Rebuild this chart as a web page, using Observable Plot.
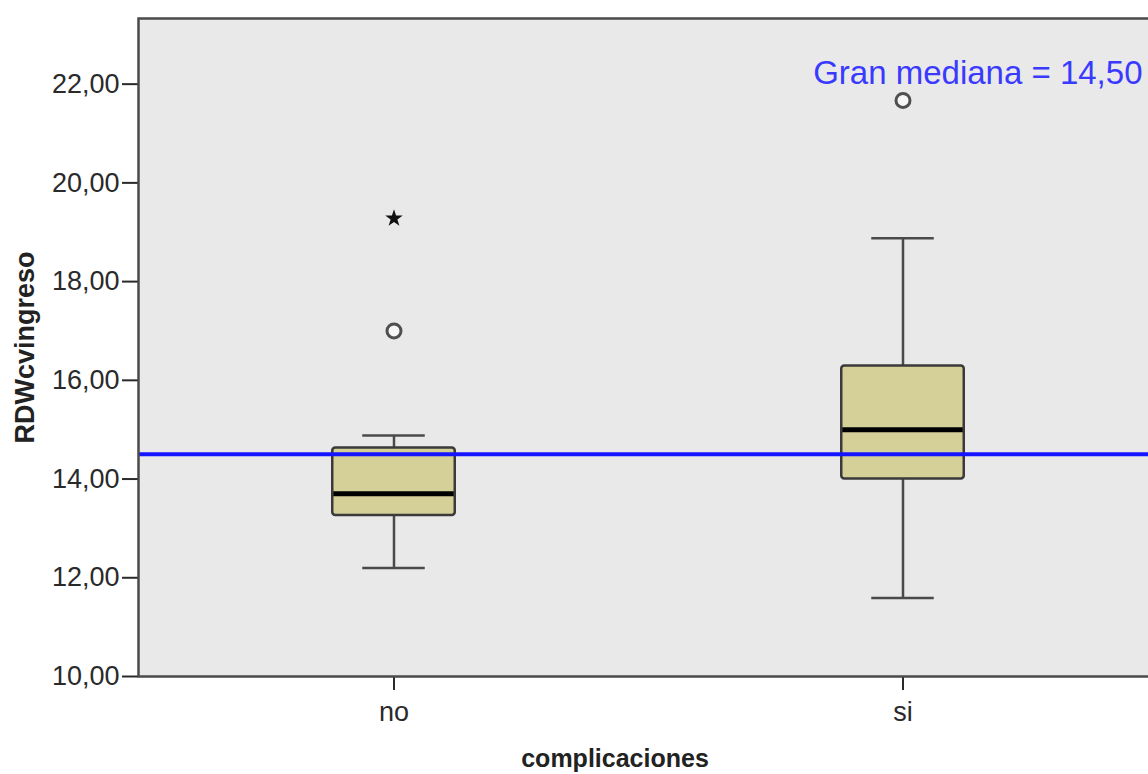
<!DOCTYPE html>
<html>
<head>
<meta charset="utf-8">
<script src="https://cdn.jsdelivr.net/npm/d3@7"></script>
<script src="https://cdn.jsdelivr.net/npm/@observablehq/plot@0.6"></script>
<style>
  html, body { margin: 0; padding: 0; background: #fff; overflow: hidden; }
  #chart { width: 1148px; height: 774px; overflow: hidden; }
  #chart svg { font-family: "Liberation Sans", Arial, sans-serif; max-width: none !important; }
</style>
</head>
<body>
<div id="chart"></div>
<script>
// Boxplot summary of RDWcvingreso by complicaciones
const groups = ["no", "si"];
const whiskerLow = [12.2, 11.59];
const q1 = [13.26, 14.0];
const medians = [13.7, 15.0];
const q3 = [14.63, 16.29];
const whiskerHigh = [14.88, 18.88];

// Outlying cases (circle = outlier, star = extreme)
const outlierGroup = ["no", "no", "si"];
const outlierValue = [17.0, 19.28, 21.67];
const outlierKind = ["circle", "star", "circle"];

const granMediana = 14.5;
const yTicks = [10, 12, 14, 16, 18, 20, 22];

const fmt = d => d.toFixed(2).replace(".", ",");

const boxes = groups.map((g, i) => ({
  group: g, lo: whiskerLow[i], q1: q1[i], med: medians[i], q3: q3[i], hi: whiskerHigh[i]
}));
const outliers = outlierGroup.map((g, i) => ({group: g, value: outlierValue[i], kind: outlierKind[i]}));

// The plot area runs slightly past the right edge of the page.
const width = 1160, height = 774;
const marginLeft = 138, marginRight = 3, marginTop = 18, marginBottom = 98;
const band = (width - marginLeft - marginRight) / groups.length;
const boxInset = (band - 123) / 2;
const capInset = (band - 63) / 2;

const chart = Plot.plot({
  width, height, marginLeft, marginRight, marginTop, marginBottom,
  style: {fontFamily: '"Liberation Sans", Arial, sans-serif', background: "#fff", maxWidth: "none"},
  x: {type: "band", domain: groups, padding: 0},
  y: {domain: [10, 23.33]},
  marks: [
    Plot.frame({fill: "#e9e9e9"}),
    // whisker stems
    Plot.ruleX(boxes, {x: "group", y1: "q3", y2: "hi", stroke: "#4a4a4a", strokeWidth: 2.5}),
    Plot.ruleX(boxes, {x: "group", y1: "lo", y2: "q1", stroke: "#4a4a4a", strokeWidth: 2.5}),
    // whisker caps
    Plot.tickY(boxes, {x: "group", y: "hi", stroke: "#4a4a4a", strokeWidth: 2.5, insetLeft: capInset, insetRight: capInset}),
    Plot.tickY(boxes, {x: "group", y: "lo", stroke: "#4a4a4a", strokeWidth: 2.5, insetLeft: capInset, insetRight: capInset}),
    // interquartile box
    Plot.barY(boxes, {x: "group", y1: "q1", y2: "q3", fill: "#d5cf98", stroke: "#3a3a3a", strokeWidth: 2.5, rx: 3, insetLeft: boxInset, insetRight: boxInset}),
    // median
    Plot.tickY(boxes, {x: "group", y: "med", stroke: "#000", strokeWidth: 5, insetLeft: boxInset + 1, insetRight: boxInset + 1}),
    // outliers
    Plot.dot(outliers.filter(d => d.kind === "circle"), {x: "group", y: "value", r: 7, stroke: "#4f4f4f", strokeWidth: 3, fill: "#f6f6f6"}),
    Plot.dot(outliers.filter(d => d.kind === "star"), {x: "group", y: "value", symbol: "star", r: 5.5, fill: "#111", stroke: "none"}),
    // grand median reference line
    Plot.ruleY([granMediana], {stroke: "#1414ff", strokeWidth: 4}),
    Plot.text([granMediana], {text: d => `Gran mediana = ${fmt(d)}`, frameAnchor: "top-right", textAnchor: "end", lineAnchor: "bottom", dx: -15, dy: 65, fill: "#3a3aff", fontSize: 33}),
    // axes
    Plot.axisY({ticks: yTicks, tickFormat: fmt, tickSize: 16, tickPadding: 3, fontSize: 27, color: "#2a2a2a", strokeWidth: 2, label: null}),
    Plot.axisX({tickSize: 14, tickPadding: 11, fontSize: 27, color: "#2a2a2a", strokeWidth: 2, label: null}),
    Plot.frame({stroke: "#4a4a4a", strokeWidth: 2.5}),
    // axis titles
    Plot.text(["RDWcvingreso"], {frameAnchor: "left", textAnchor: "middle", dx: -113, rotate: -90, fontWeight: "bold", fontSize: 27, fill: "#222"}),
    Plot.text(["complicaciones"], {frameAnchor: "bottom", textAnchor: "middle", dx: -33, dy: 90, fontWeight: "bold", fontSize: 25, fill: "#222"})
  ]
});

document.getElementById("chart").appendChild(chart);
</script>
</body>
</html>
